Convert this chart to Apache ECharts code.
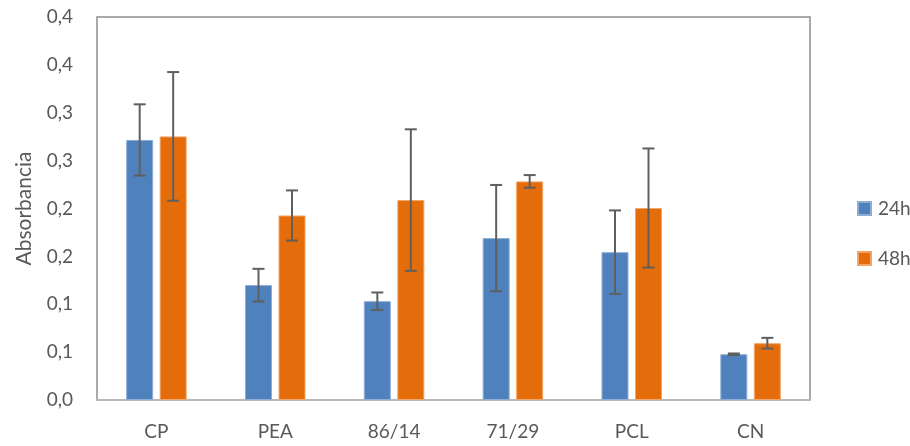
<!DOCTYPE html>
<html>
<head>
<meta charset="utf-8">
<script src="https://cdn.jsdelivr.net/npm/echarts@6/dist/echarts.min.js"></script>
<style>html,body{margin:0;padding:0;background:#fff;}#c{width:910px;height:446px;}</style>
</head>
<body>
<div id="c"></div>
<script>
const categories = ['CP', 'PEA', '86/14', '71/29', 'PCL', 'CN'];
const values24 = [0.2716, 0.120, 0.1032, 0.1691, 0.1544, 0.0478];
const values48 = [0.2753, 0.1927, 0.2088, 0.2283, 0.2005, 0.0593];
const err24 = [0.0372, 0.017, 0.0091, 0.0555, 0.0436, 0.0008];
const err48 = [0.0672, 0.0262, 0.0739, 0.0066, 0.0622, 0.0056];
const yTickLabels = ['0,0', '0,1', '0,1', '0,2', '0,2', '0,3', '0,3', '0,4', '0,4'];
const seriesNames = ['24h', '48h'];

const BLUE = '#4f81bd', ORANGE = '#e46c0a', TXT = '#595959';
const BAR_W = 27, BAR_GAP_PX = 6.5;

function errSeries(vals, errs, side) {
  return {
    type: 'custom',
    z: 10,
    silent: true,
    data: vals.map((v, i) => [i, v, errs[i]]),
    renderItem: function (params, api) {
      const i = api.value(0), v = api.value(1), e = api.value(2);
      const off = side * (BAR_W + BAR_GAP_PX) / 2;
      const top = api.coord([i, v + e]);
      const bot = api.coord([i, v - e]);
      const x = top[0] + off;
      const cap = 6;
      const st = { stroke: '#5f5f5f', lineWidth: 2 };
      return {
        type: 'group',
        children: [
          { type: 'line', shape: { x1: x, y1: top[1], x2: x, y2: bot[1] }, style: st },
          { type: 'line', shape: { x1: x - cap, y1: top[1], x2: x + cap, y2: top[1] }, style: st },
          { type: 'line', shape: { x1: x - cap, y1: bot[1], x2: x + cap, y2: bot[1] }, style: st }
        ]
      };
    }
  };
}

const chart = echarts.init(document.getElementById('c'), null, { renderer: 'canvas' });
chart.setOption({
  animation: false,
  textStyle: { fontFamily: 'Lato' },
  grid: { left: 97, right: 100, top: 17, bottom: 46, show: true, borderColor: '#8f8f8f', borderWidth: 1.5, containLabel: false },
  legend: {
    orient: 'vertical',
    left: 852,
    top: 194,
    itemWidth: 13,
    itemHeight: 13,
    itemGap: 31,
    icon: 'rect',
    data: seriesNames,
    textStyle: { color: TXT, fontSize: 19, fontFamily: 'Lato', padding: [0, 0, 0, 2] }
  },
  xAxis: {
    type: 'category',
    data: categories,
    axisLine: { show: true, lineStyle: { color: '#bfbfbf', width: 1.5 } },
    axisTick: { show: false },
    axisLabel: { color: TXT, fontSize: 19, margin: 22, fontFamily: 'Lato' }
  },
  yAxis: {
    type: 'value',
    min: 0,
    max: 0.4,
    interval: 0.05,
    name: 'Absorbancia',
    nameLocation: 'middle',
    nameGap: 62,
    nameTextStyle: { color: TXT, fontSize: 21, fontFamily: 'Lato' },
    axisLine: { show: false },
    axisTick: { show: false },
    splitLine: { show: false },
    axisLabel: {
      color: TXT, fontSize: 19, margin: 24, fontFamily: 'Lato',
      formatter: function (v) { return yTickLabels[Math.round(v / 0.05)]; }
    }
  },
  series: [
    { name: seriesNames[0], type: 'bar', data: values24, barWidth: BAR_W, barGap: (BAR_GAP_PX / BAR_W * 100) + '%',
      itemStyle: { color: BLUE, borderColor: '#8eadd6', borderWidth: 1 } },
    { name: seriesNames[1], type: 'bar', data: values48, barWidth: BAR_W,
      itemStyle: { color: ORANGE, borderColor: '#f0a66a', borderWidth: 1 } },
    errSeries(values24, err24, -1),
    errSeries(values48, err48, 1)
  ]
});
</script>
</body>
</html>
